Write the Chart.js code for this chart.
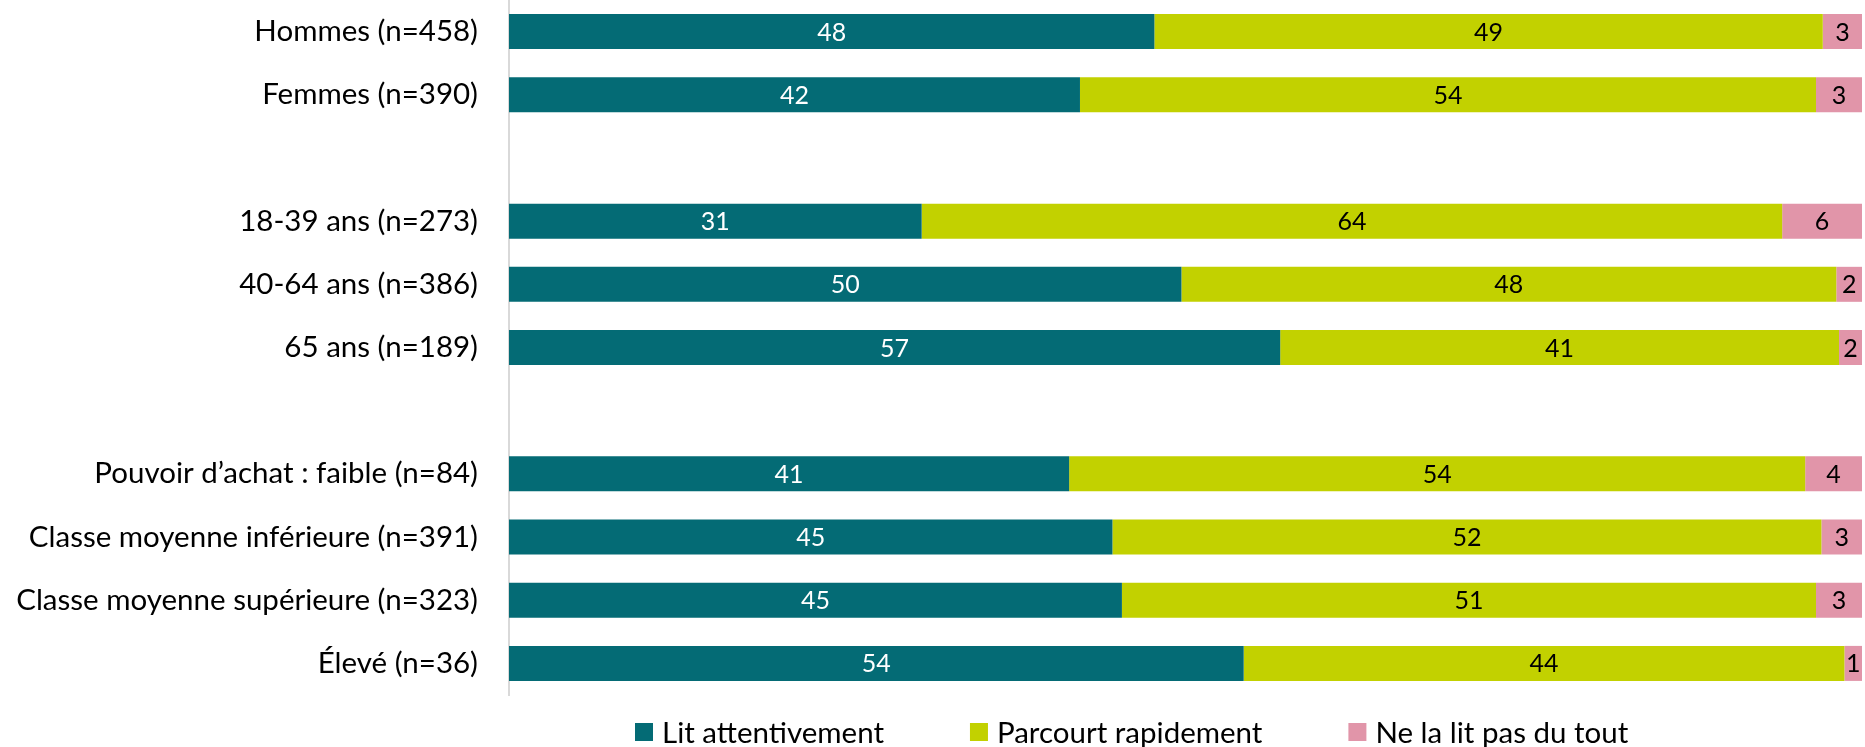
<!DOCTYPE html>
<html><head><meta charset="utf-8">
<script src="https://cdn.jsdelivr.net/npm/chart.js@4.4.0/dist/chart.umd.min.js"></script>
<style>html,body{margin:0;padding:0;background:#fff;} #wrap{width:1865px;height:747px;position:relative;}</style>
</head><body><div id="wrap"><canvas id="c"></canvas></div>
<script>
const categories = ['Hommes (n=458)','Femmes (n=390)','','18-39 ans (n=273)','40-64 ans (n=386)','65 ans (n=189)','','Pouvoir d\u2019achat : faible (n=84)','Classe moyenne inférieure (n=391)','Classe moyenne supérieure (n=323)','Élevé (n=36)'];
const seriesNames = ['Lit attentivement','Parcourt rapidement','Ne la lit pas du tout'];
const litAttentivement   = [47.7, 42.2, null, 30.5, 49.7, 57.0, null, 41.4, 44.6, 45.3, 54.3];
const parcourtRapidement = [49.4, 54.4, null, 63.6, 48.4, 41.3, null, 54.4, 52.4, 51.3, 44.4];
const neLaLitPas         = [2.9, 3.4, null, 5.9, 1.9, 1.7, null, 4.2, 3.0, 3.4, 1.3];
const seriesValues = [litAttentivement, parcourtRapidement, neLaLitPas];
const colors = ['#046b75','#c2d100','#e195a9'];
const labelColors = ['#ffffff','#000000','#000000'];
const FONT = 'Lato';

const barLabels = {
  id: 'barLabels',
  afterDatasetsDraw(chart) {
    const ctx = chart.ctx;
    ctx.save();
    ctx.font = '25px ' + FONT;
    ctx.textAlign = 'center';
    ctx.textBaseline = 'middle';
    chart.data.datasets.forEach((ds, i) => {
      const meta = chart.getDatasetMeta(i);
      meta.data.forEach((el, j) => {
        const v = ds.data[j];
        if (v == null) return;
        const p = el.getProps(['x', 'base', 'y'], true);
        ctx.fillStyle = labelColors[i];
        ctx.fillText(String(Math.round(v)), (p.x + p.base) / 2, p.y + 1);
      });
    });
    ctx.restore();
  }
};

const customLegend = {
  id: 'customLegend',
  afterDraw(chart) {
    const ctx = chart.ctx;
    ctx.save();
    ctx.font = '29.5px ' + FONT;
    ctx.textBaseline = 'middle';
    ctx.textAlign = 'left';
    const yc = 732, box = 18, gapText = 9, gapItem = 86;
    let x = 635;
    chart.data.datasets.forEach((ds) => {
      ctx.fillStyle = ds.backgroundColor;
      ctx.fillRect(x, yc - box / 2, box, box);
      ctx.fillStyle = '#000';
      ctx.fillText(ds.label, x + box + gapText, yc + 1);
      x += box + gapText + ctx.measureText(ds.label).width + gapItem;
    });
    ctx.restore();
  }
};

new Chart(document.getElementById('c'), {
  type: 'bar',
  data: {
    labels: categories,
    datasets: seriesNames.map((n, i) => ({
      label: n,
      data: seriesValues[i],
      backgroundColor: colors[i],
      borderWidth: 0,
      barPercentage: 0.554,
      categoryPercentage: 1.0
    }))
  },
  options: {
    indexAxis: 'y',
    responsive: true,
    maintainAspectRatio: false,
    animation: false,
    layout: { padding: { top: 0, right: 3, bottom: 52, left: 0 } },
    plugins: { legend: { display: false }, tooltip: { enabled: false } },
    scales: {
      x: { stacked: true, min: 0, max: 100, display: false },
      y: {
        stacked: true,
        afterFit: (s) => { s.width = 509; s.paddingTop = 0; s.paddingBottom = 0; },
        grid: { display: false, drawTicks: false },
        border: { display: true, color: '#d9d9d9', width: 2 },
        ticks: { color: '#000', padding: 31, font: { family: FONT, size: 29.5 } }
      }
    }
  },
  plugins: [barLabels, customLegend]
});
</script></body></html>
